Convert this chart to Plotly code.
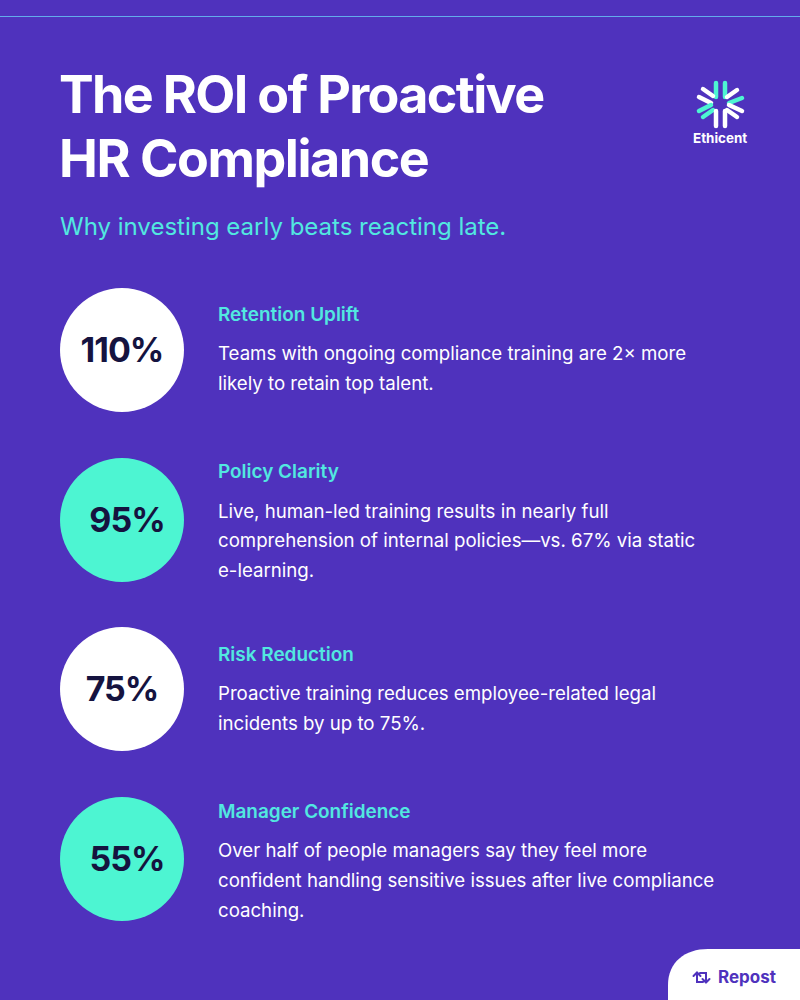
import plotly.graph_objects as go

# chart content
percents = [110, 95, 75, 55]
headings = ['Retention Uplift', 'Policy Clarity', 'Risk Reduction', 'Manager Confidence']
bodies = [
    ['Teams with ongoing compliance training are 2× more', 'likely to retain top talent.'],
    ['Live, human-led training results in nearly full',
     'comprehension of internal policies—vs. 67% via static', 'e-learning.'],
    ['Proactive training reduces employee-related legal', 'incidents by up to 75%.'],
    ['Over half of people managers say they feel more',
     'confident handling sensitive issues after live compliance', 'coaching.'],
]
title_lines = ['The ROI of Proactive', 'HR Compliance']
subtitle = 'Why investing early beats reacting late.'

BG = '#4F32BD'
CYAN = '#52E8E0'
TEAL = '#4DF5D2'
DARK = '#15133F'
FONT = 'Inter'

circle_y = [350, 520, 689, 859]
circle_col = ['white', TEAL, 'white', TEAL]
pct_x = [122, 127, 122, 127]
pct_y = [353, 523, 692, 862]
title_y = [100, 164]
heading_y = [314, 471, 654, 811]
body_y = [[353, 383], [511, 540, 570], [693, 723], [850, 880, 910]]

fig = go.Figure()

# the four stat circles
fig.add_trace(go.Scatter(x=[122] * 4, y=circle_y, mode='markers',
                         marker=dict(size=124, color=circle_col, line_width=0),
                         hoverinfo='skip', showlegend=False))
fig.add_trace(go.Scatter(x=pct_x, y=pct_y, mode='text',
                         text=[f'{p}%' for p in percents],
                         textfont=dict(family=FONT, size=34, color=DARK, weight=700),
                         textposition='middle center',
                         hoverinfo='skip', showlegend=False))
# title as a text trace so the tightened lines stay anchored at the left edge
fig.add_trace(go.Scatter(x=[59, 59], y=title_y, mode='text', text=title_lines,
                         textfont=dict(family=FONT, size=52, color='white', weight=700),
                         textposition='middle right',
                         hoverinfo='skip', showlegend=False))


def label(x, y, text, size, color, weight=400, anchor='left'):
    fig.add_annotation(x=x, y=y, text=text, showarrow=False, xanchor=anchor, yanchor='middle',
                       xref='x', yref='y', borderpad=0,
                       font=dict(family=FONT, size=size, color=color, weight=weight))


label(59, 226, subtitle, 24, CYAN)

for i in range(4):
    label(217, heading_y[i], headings[i], 18.95, CYAN, 600)
    for y, line in zip(body_y[i], bodies[i]):
        label(217, y, line, 18.65, 'white')

label(720, 138, 'Ethicent', 13.4, 'white', 700, 'center')
label(717, 977, 'Repost', 17, BG, 700)

# top rule, logo and repost tab are drawn as shapes
shapes = [dict(type='line', x0=0, x1=800, y0=16.5, y1=16.5, line=dict(color='#63ACEB', width=1.2))]

logo_spokes = [
    (716, 83, 716, 97, TEAL), (725, 83, 725, 97, TEAL),
    (703, 89, 713, 96, 'white'), (737, 90, 727, 97, 'white'),
    (699, 97, 711, 103, 'white'), (742, 98, 729, 103, TEAL),
    (699, 111, 711, 105, TEAL), (742, 111, 729, 105, 'white'),
    (703, 117, 713, 110, TEAL), (737, 117, 727, 110, 'white'),
    (716, 126, 716, 111, 'white'), (725, 126, 725, 111, 'white'),
]
for x0, y0, x1, y1, col in logo_spokes:
    shapes.append(dict(type='line', x0=x0, y0=y0, x1=x1, y1=y1, line=dict(color=col, width=4.5)))

shapes.append(dict(type='path', path='M 668 1000 L 668 985 C 668 962 685 949 708 949 L 800 949 L 800 1000 Z',
                   fillcolor='white', line_width=0))
# repost icon
shapes.append(dict(type='path',
                   path='M 693.5 976 L 697 972.5 L 700.5 976 M 697 972.5 L 697 982 L 703 982 '
                        'M 700 973 L 706 973 L 706 982.5 M 702.5 979 L 706 982.5 L 709.5 979',
                   line=dict(color=BG, width=2)))

fig.update_layout(
    width=800, height=1000,
    margin=dict(l=0, r=0, t=0, b=0),
    paper_bgcolor=BG, plot_bgcolor=BG,
    xaxis=dict(range=[0, 800], visible=False, fixedrange=True),
    yaxis=dict(range=[1000, 0], visible=False, fixedrange=True),
    shapes=shapes,
)

# plotly has no letter spacing or line caps, so set those on the drawn svg
post = """
document.body.style.margin = '0';
document.documentElement.style.overflow = 'hidden';
document.querySelectorAll('.textpoint text').forEach(function (t) {
  var s = t.textContent;
  t.style.letterSpacing = s.indexOf('%') >= 0 ? '-1px' : (s.indexOf('HR') >= 0 ? '-1.45px' : '-1.65px');
});
document.querySelectorAll('.shapelayer path').forEach(function (p) { p.style.strokeLinecap = 'round'; });
"""
fig.write_html('out.html', post_script=post, config=dict(displayModeBar=False))
